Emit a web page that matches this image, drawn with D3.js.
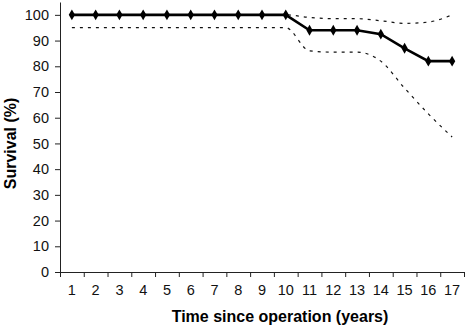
<!DOCTYPE html>
<html>
<head>
<meta charset="utf-8">
<script src="https://cdn.jsdelivr.net/npm/d3@7/dist/d3.min.js"></script>
<style>
	body { margin: 0; background: #fff; }
	svg { display: block; }
	.tick text { font-family: 'Liberation Sans', Arial, sans-serif; font-size: 14.5px; fill: #111; }
	.axis-title { font-family: 'Liberation Sans', Arial, sans-serif; font-size: 16px; font-weight: bold; fill: #000; }
</style>
</head>
<body>
<div id="chart"></div>
<script>
	'use strict';
	var years = ['1','2','3','4','5','6','7','8','9','10','11','12','13','14','15','16','17'];
	var survival = [100,100,100,100,100,100,100,100,100,100,94,94,94,92.5,87,82,82];
	var upperCI = [100,100,100,100,100,100,100,100,100,100,99,98.5,98.5,97.7,96.7,97.2,100];
	var lowerCI = [95,95,95,95,95,95,95,95,95,95,86,85.5,85.5,82,71.5,61.5,52.5];
	var yTicks = [0,10,20,30,40,50,60,70,80,90,100];

	var width = 466, height = 326;
	var margin = {top: 2, right: 2, bottom: 54, left: 60};

	var svg = d3.select('#chart')
		.append('svg')
		.attr('width', width)
		.attr('height', height);

	var x = d3.scaleBand()
		.domain(years)
		.range([margin.left, width - margin.right]);
	// edges of the bands, for tick marks between labels
	var xEdge = d3.scaleLinear()
		.domain([0, years.length])
		.range([margin.left, width - margin.right]);
	var y = d3.scaleLinear()
		.domain([0, 105])
		.range([height - margin.bottom, margin.top]);

	// x-axis
	svg.append('g')
		.attr('transform', 'translate(0,' + (height - margin.bottom) + ')')
		.call(d3.axisBottom(xEdge).tickValues(d3.range(0, years.length + 1)).tickSize(5).tickFormat(''))
		.call(function (g) {
			g.selectAll('line, path').attr('stroke', '#222');
		});
	svg.append('g')
		.attr('transform', 'translate(0,' + (height - margin.bottom) + ')')
		.call(d3.axisBottom(x).tickSize(0).tickPadding(13))
		.call(function (g) {
			g.select('.domain').remove();
		});

	// y-axis
	svg.append('g')
		.attr('transform', 'translate(' + margin.left + ',0)')
		.call(d3.axisLeft(y).tickValues(yTicks).tickSize(5).tickPadding(6).tickSizeOuter(0))
		.call(function (g) {
			g.selectAll('line, path').attr('stroke', '#222');
		});

	function cx(d, i) {
		return x(years[i]) + x.bandwidth() / 2;
	}

	var ciLine = d3.line()
		.x(cx)
		.y(function (d) { return y(d); })
		.curve(d3.curveMonotoneX);

	[upperCI, lowerCI].forEach(function (ci) {
		svg.append('path')
			.datum(ci)
			.attr('fill', 'none')
			.attr('stroke', '#111')
			.attr('stroke-width', 1.2)
			.attr('stroke-dasharray', '3,5')
			.attr('d', ciLine);
	});

	var line = d3.line()
		.x(cx)
		.y(function (d) { return y(d); });

	svg.append('path')
		.datum(survival)
		.attr('fill', 'none')
		.attr('stroke', '#000')
		.attr('stroke-width', 2.6)
		.attr('d', line);

	svg.selectAll('.marker')
		.data(survival)
		.enter()
		.append('path')
		.attr('class', 'marker')
		.attr('transform', function (d, i) {
			return 'translate(' + cx(d, i) + ',' + y(d) + ')';
		})
		.attr('d', d3.symbol().type(d3.symbolDiamond).size(34))
		.attr('fill', '#000');

	// axis titles
	svg.append('text')
		.attr('class', 'axis-title')
		.attr('x', 280)
		.attr('y', 322)
		.attr('text-anchor', 'middle')
		.text('Time since operation (years)');

	svg.append('text')
		.attr('class', 'axis-title')
		.attr('transform', 'translate(16,' + y(50) + ') rotate(-90)')
		.attr('text-anchor', 'middle')
		.text('Survival (%)');
</script>
</body>
</html>
